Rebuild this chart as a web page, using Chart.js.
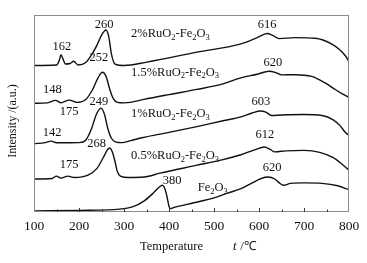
<!DOCTYPE html>
<html>
<head>
<meta charset="utf-8">
<script src="https://cdn.jsdelivr.net/npm/chart.js@4.4.0/dist/chart.umd.min.js"></script>
<style>
  html, body { margin: 0; padding: 0; background: #fff; }
  #wrap { width: 367px; height: 263px; }
</style>
</head>
<body>
<div id="wrap"><canvas id="tprChart"></canvas></div>
<script>
// H2-TPR profiles, temperature (°C) vs. intensity (a.u., curves stacked)
const feT = [100, 200, 290, 320, 345, 365, 378, 385, 390, 395, 400, 403, 410, 455, 500, 530, 560, 585, 605, 620, 635, 645, 655, 670, 700, 740, 775, 800];
const feY = [1, 1.7, 3, 5.5, 11.5, 19.5, 25.5, 27.5, 25, 17, 6, 3.5, 4.5, 9.5, 14.5, 19.5, 24, 30, 34.5, 36, 34, 30, 27.5, 29.5, 30, 29.5, 27, 23];

const ru05T = [100, 140, 150, 160, 175, 190, 220, 240, 255, 263, 268, 274, 280, 285, 292, 310, 345, 380, 460, 520, 560, 590, 612, 625, 635, 660, 700, 735, 765, 785, 800];
const ru05Y = [34, 34.5, 37, 35, 37, 35.5, 38, 45, 57, 64, 66, 62, 52, 42, 37, 35.5, 36, 40, 48, 54, 59, 64, 67, 64.5, 62, 63, 63.5, 61.5, 56, 49, 43];

const ru1T = [100, 125, 138, 150, 200, 215, 228, 238, 249, 257, 264, 272, 282, 295, 315, 340, 400, 462, 520, 560, 585, 603, 615, 628, 650, 700, 740, 765, 780, 792, 800];
const ru1Y = [70.5, 71.5, 73, 71.3, 71.5, 74, 86, 100, 107, 100, 86, 76, 72, 71.5, 73.5, 76.5, 82, 88, 94, 98, 102, 104, 103, 99.5, 100, 100.5, 99.5, 95, 89, 82, 79];

const ru15T = [100, 130, 148, 160, 178, 195, 215, 230, 242, 252, 260, 268, 276, 285, 300, 314, 344, 400, 462, 520, 558, 596, 622, 638, 650, 680, 717, 747, 769, 784, 800];
const ru15Y = [112, 112.5, 115, 112.5, 115.3, 113, 116, 126, 138, 144, 140, 127, 117, 113, 112.5, 113, 116, 121, 126.3, 132, 138, 142, 145, 143.5, 141.3, 141.5, 139.7, 133, 126.3, 122, 118];

const ru2T = [100, 150, 156, 160, 164, 170, 180, 188, 198, 215, 228, 240, 251, 260, 266, 272, 280, 300, 351, 462, 558, 596, 618, 630, 645, 680, 725, 762, 780, 792, 800];
const ru2Y = [151, 151.5, 156, 162, 158, 152.5, 153, 155.3, 151.5, 154, 162, 172, 183, 187.5, 181, 163, 152.5, 151, 154.5, 164.7, 173, 179.7, 184, 182, 178.7, 179.7, 179, 173, 167, 161, 155];

const seriesNames = ['Fe_2O_3', '0.5%RuO_2-Fe_2O_3', '1%RuO_2-Fe_2O_3', '1.5%RuO_2-Fe_2O_3', '2%RuO_2-Fe_2O_3'];
const peakTexts = ['380', '620', '175', '268', '612', '142', '249', '603', '148', '175', '252', '620', '162', '260', '616'];

// where the text sits, in data units (temperature, intensity)
const nameSpots = [[464, 25], [315.6, 58], [315.6, 101], [315.6, 144], [315.6, 184]];
const peakSpots = [
  [407, 32], [629, 45.5],
  [178, 48.5], [239, 70], [613, 80],
  [140, 82], [244.4, 113.5], [604.4, 114],
  [141, 125.5], [178, 103.5], [244.4, 158.5], [631, 154],
  [162.2, 170.5], [255.6, 193], [617.8, 193]
];

const serif = '"Liberation Serif", "Times New Roman", serif';

function zip(ts, ys) {
    return ts.map((t, i) => ({ x: t, y: ys[i] }));
}

// text with "_n" marking a subscript digit
function drawFormula(ctx, str, x, y) {
    const parts = str.split(/_(\d)/);
    let cx = x;
    parts.forEach((p, i) => {
        if (!p) return;
        const sub = i % 2 === 1;
        ctx.font = sub ? '8.5px ' + serif : '12.5px ' + serif;
        ctx.fillText(p, cx, sub ? y + 4 : y);
        cx += ctx.measureText(p).width;
    });
}

const decor = {
    id: 'decor',
    afterDraw(chart) {
        const { ctx, chartArea: a, scales: { x, y } } = chart;
        ctx.save();

        // frame
        ctx.strokeStyle = '#8c8c8c';
        ctx.lineWidth = 1;
        ctx.strokeRect(a.left + 0.5, a.top + 0.5, a.right - a.left - 1, a.bottom - a.top - 1);

        // inward ticks on the bottom axis
        ctx.strokeStyle = '#333';
        for (let t = 150; t < 800; t += 50) {
            const px = Math.round(x.getPixelForValue(t)) + 0.5;
            const len = t % 100 === 0 ? 4 : 2.5;
            ctx.beginPath();
            ctx.moveTo(px, a.bottom);
            ctx.lineTo(px, a.bottom - len);
            ctx.stroke();
        }

        ctx.fillStyle = '#111';
        ctx.textBaseline = 'middle';

        // peak temperatures
        ctx.font = '12.5px ' + serif;
        ctx.textAlign = 'center';
        peakTexts.forEach((s, i) => {
            ctx.fillText(s, x.getPixelForValue(peakSpots[i][0]), y.getPixelForValue(peakSpots[i][1]));
        });

        // sample names
        ctx.textAlign = 'left';
        seriesNames.forEach((s, i) => {
            drawFormula(ctx, s, x.getPixelForValue(nameSpots[i][0]), y.getPixelForValue(nameSpots[i][1]));
        });

        // x title: Temperature  t /°C
        ctx.font = '12.5px ' + serif;
        ctx.fillText('Temperature', 140, 247);
        ctx.font = 'italic 12.5px ' + serif;
        ctx.fillText('t', 233, 247);
        ctx.font = '12.5px ' + serif;
        ctx.fillText(' /\u2103', 237, 247);

        // y title
        ctx.translate(13, 121);
        ctx.rotate(-Math.PI / 2);
        ctx.textAlign = 'center';
        ctx.font = '12px ' + serif;
        ctx.fillText('Intensity /(a.u.)', 0, 0);

        ctx.restore();
    }
};

const curves = [[feT, feY], [ru05T, ru05Y], [ru1T, ru1Y], [ru15T, ru15Y], [ru2T, ru2Y]];

new Chart(document.getElementById('tprChart'), {
    type: 'line',
    data: {
        datasets: curves.map((c, i) => ({
            label: seriesNames[i],
            data: zip(c[0], c[1]),
            borderColor: '#111',
            borderWidth: 1.4,
            pointRadius: 0,
            fill: false,
            cubicInterpolationMode: 'monotone'
        }))
    },
    options: {
        responsive: true,
        maintainAspectRatio: false,
        animation: false,
        layout: { padding: { left: 34, right: 18, top: 15, bottom: 22.8 } },
        plugins: {
            legend: { display: false },
            tooltip: { enabled: false }
        },
        scales: {
            x: {
                type: 'linear',
                min: 100,
                max: 800,
                grid: { display: false, drawTicks: false },
                border: { display: false },
                ticks: {
                    stepSize: 100,
                    padding: 6,
                    color: '#111',
                    font: { family: serif, size: 13.5 }
                }
            },
            y: {
                display: false,
                min: 0,
                max: 203
            }
        }
    },
    plugins: [decor]
});
</script>
</body>
</html>
